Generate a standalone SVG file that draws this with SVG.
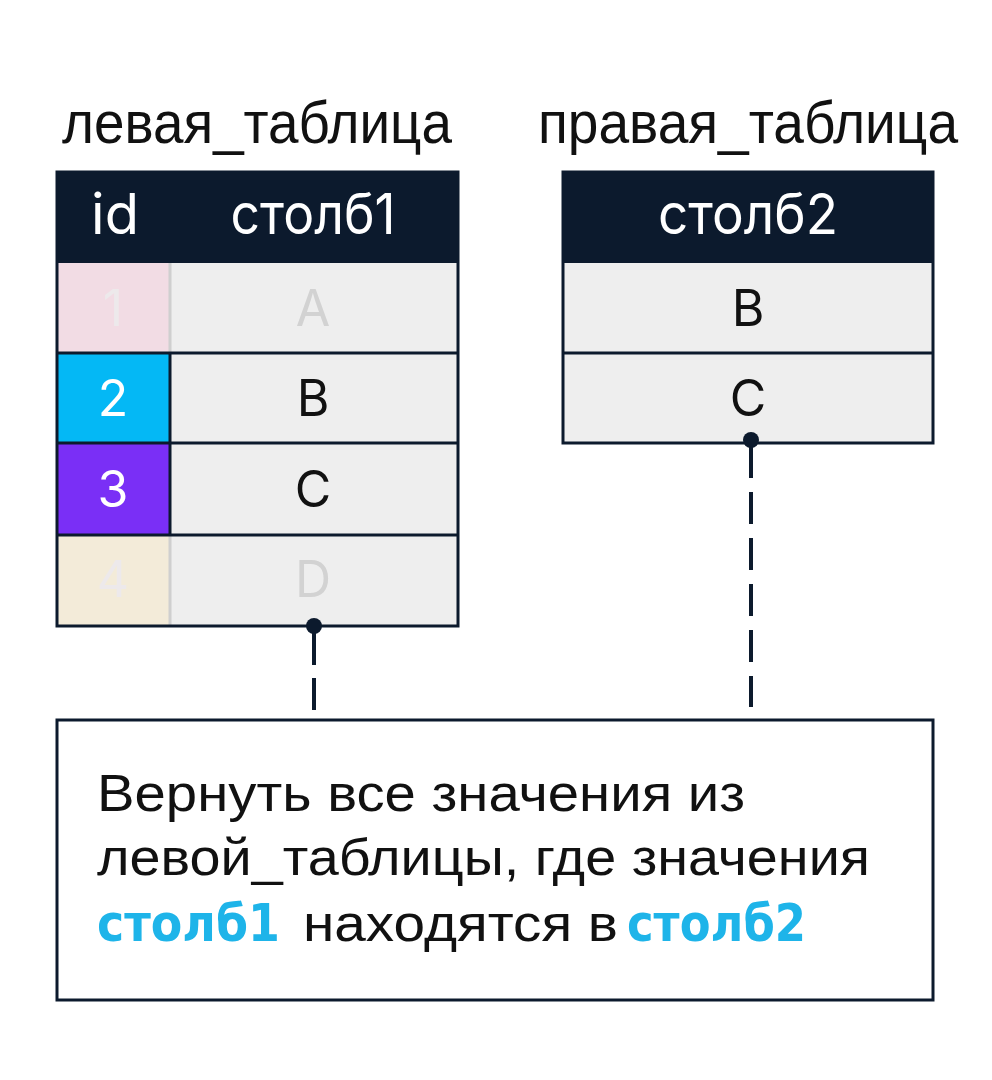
<svg xmlns="http://www.w3.org/2000/svg" width="992" height="1080" viewBox="0 0 992 1080">
  <style>
    .title { font-family: "Liberation Sans", Arial, sans-serif; font-size: 60px; fill: #111111; }
    .hdr { font-family: Inter, "Noto Sans", sans-serif; font-size: 56px; fill: #ffffff; text-anchor: middle; }
    .cell { font-family: Inter, "Noto Sans", sans-serif; font-size: 50px; fill: #111111; text-anchor: middle; }
    .faded { fill: #D2D2D2; }
    .fadedid { fill: #EDE9EB; }
    .white { fill: #ffffff; }
    .body { font-family: "Liberation Sans", Arial, sans-serif; font-size: 52px; fill: #111111; }
    .hl { font-family: "DejaVu Sans", "Open Sans", sans-serif; font-weight: bold; fill: #1EB4E9; }
    .frame { fill: none; stroke: #0C1A2D; stroke-width: 3; }
    .rowline { stroke: #0C1A2D; stroke-width: 3; }
    .conn { stroke: #0C1A2D; stroke-width: 4; fill: none; }
  </style>

  <rect width="992" height="1080" fill="#ffffff"/>

  <g id="left-table">
    <text class="title" x="62" y="143" textLength="390" lengthAdjust="spacingAndGlyphs">левая_таблица</text>
    <rect x="57" y="172" width="401" height="91" fill="#0C1A2D"/>
    <text class="hdr" x="115" y="234">id</text>
    <text class="hdr" x="313" y="234" textLength="165" lengthAdjust="spacingAndGlyphs">столб1</text>
    <!-- row 1 -->
    <rect x="57" y="263" width="113" height="90" fill="#F2DCE4"/>
    <rect x="170" y="263" width="288" height="90" fill="#EEEEEE"/>
    <line x1="170" y1="263" x2="170" y2="353" stroke="#CFCFCF" stroke-width="3"/>
    <text class="cell fadedid" x="113" y="326">1</text>
    <text class="cell faded" x="313" y="326">A</text>
    <!-- row 2 -->
    <rect x="57" y="353" width="113" height="90" fill="#04B8F5"/>
    <rect x="170" y="353" width="288" height="90" fill="#EEEEEE"/>
    <line class="rowline" x1="170" y1="353" x2="170" y2="443"/>
    <text class="cell white" x="113" y="416">2</text>
    <text class="cell" x="313" y="416">B</text>
    <!-- row 3 -->
    <rect x="57" y="443" width="113" height="92" fill="#7A2FF6"/>
    <rect x="170" y="443" width="288" height="92" fill="#EEEEEE"/>
    <line class="rowline" x1="170" y1="443" x2="170" y2="535"/>
    <text class="cell white" x="113" y="507">3</text>
    <text class="cell" x="313" y="507">C</text>
    <!-- row 4 -->
    <rect x="57" y="535" width="113" height="91" fill="#F3EBD9"/>
    <rect x="170" y="535" width="288" height="91" fill="#EEEEEE"/>
    <line x1="170" y1="535" x2="170" y2="626" stroke="#CFCFCF" stroke-width="3"/>
    <text class="cell fadedid" x="113" y="597">4</text>
    <text class="cell faded" x="313" y="597">D</text>
    <line class="rowline" x1="57" y1="353" x2="458" y2="353"/>
    <line class="rowline" x1="57" y1="443" x2="458" y2="443"/>
    <line class="rowline" x1="57" y1="535" x2="458" y2="535"/>
    <rect class="frame" x="57" y="172" width="401" height="454"/>
  </g>

  <g id="right-table">
    <text class="title" x="538" y="143" textLength="420" lengthAdjust="spacingAndGlyphs">правая_таблица</text>
    <rect x="563" y="172" width="370" height="91" fill="#0C1A2D"/>
    <text class="hdr" x="748" y="234" textLength="180" lengthAdjust="spacingAndGlyphs">столб2</text>
    <rect x="563" y="263" width="370" height="90" fill="#EEEEEE"/>
    <text class="cell" x="748" y="326">B</text>
    <rect x="563" y="353" width="370" height="90" fill="#EEEEEE"/>
    <text class="cell" x="748" y="416">C</text>
    <line class="rowline" x1="563" y1="353" x2="933" y2="353"/>
    <rect class="frame" x="563" y="172" width="370" height="271"/>
  </g>

  <g id="connectors">
    <circle cx="314" cy="626" r="8" fill="#0C1A2D"/>
    <path class="conn" d="M314 626 V710" stroke-dasharray="39 13 32 14"/>
    <circle cx="751" cy="440" r="8" fill="#0C1A2D"/>
    <path class="conn" d="M751 440 V707" stroke-dasharray="38 14 32 14 32 14 32 14 32 14 32"/>
  </g>

  <g id="description">
    <rect x="57" y="720" width="876" height="280" fill="#ffffff" stroke="#0C1A2D" stroke-width="3"/>
    <text class="body" x="97" y="811" textLength="648" lengthAdjust="spacingAndGlyphs">Вернуть все значения из</text>
    <text class="body" x="97" y="875" textLength="773" lengthAdjust="spacingAndGlyphs">левой_таблицы, где значения</text>
    <text class="body" y="941"><tspan class="hl" x="97" textLength="183" lengthAdjust="spacingAndGlyphs">столб1</tspan><tspan x="303" textLength="315" lengthAdjust="spacingAndGlyphs">находятся в</tspan><tspan class="hl" x="627" textLength="179" lengthAdjust="spacingAndGlyphs">столб2</tspan></text>
  </g>
</svg>
